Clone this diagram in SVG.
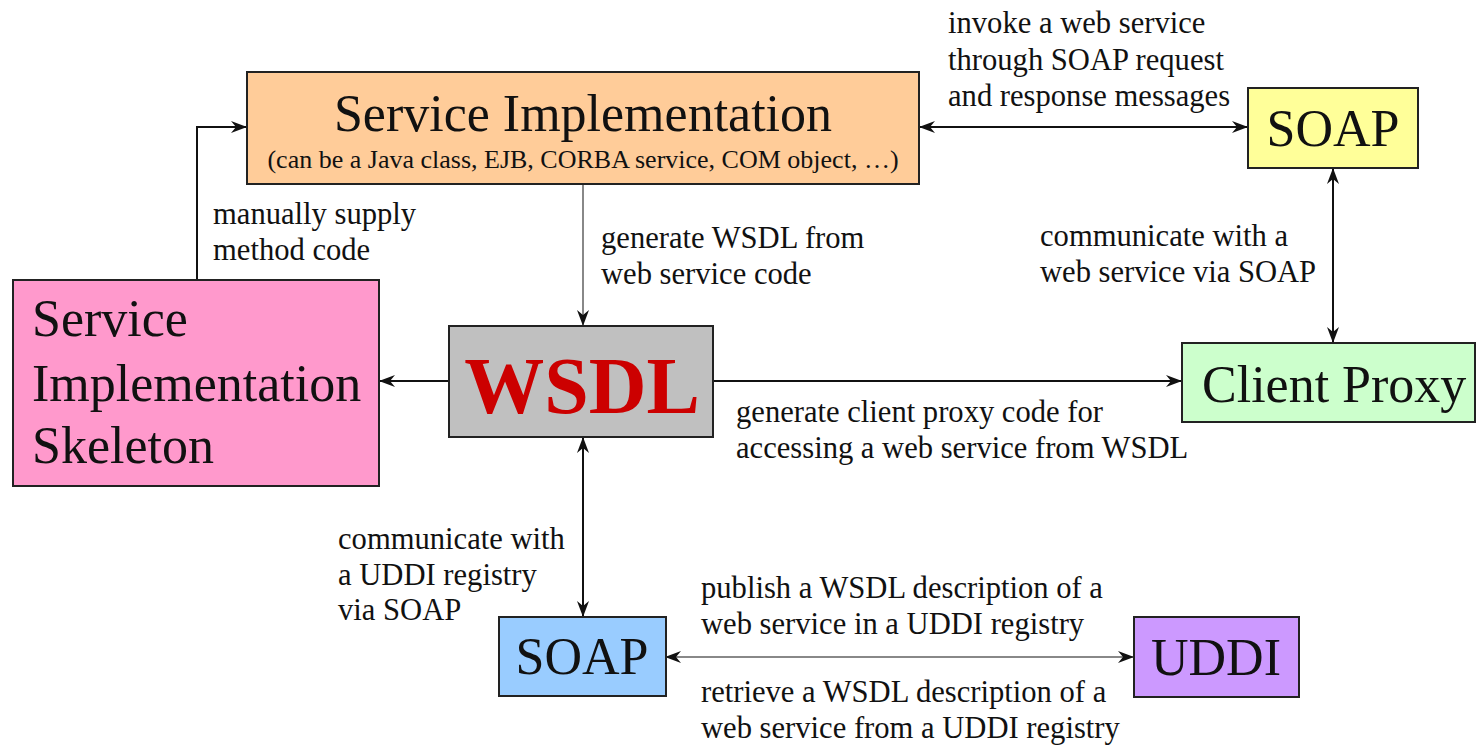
<svg xmlns="http://www.w3.org/2000/svg" width="1476" height="748" viewBox="0 0 1476 748">
<defs>
<marker id="ah" viewBox="0 0 16 12" refX="15" refY="6" markerWidth="16" markerHeight="12" markerUnits="userSpaceOnUse" orient="auto-start-reverse">
<path d="M0,0 L16,6 L0,12 L5,6 z" fill="#111"/>
</marker>
<style>
.box{stroke:#222;stroke-width:2}
.big{font-family:"Liberation Serif","Times New Roman",serif;font-size:52px;fill:#111}
.lbl{font-family:"Liberation Serif","Times New Roman",serif;font-size:30.6px;fill:#111}
.sub{font-family:"Liberation Serif","Times New Roman",serif;font-size:26px;fill:#111}
.con{fill:none;stroke:#111;stroke-width:2}
.gray{stroke:#888}
</style>
</defs>
<rect width="1476" height="748" fill="#fff"/>
<g id="connectors">
<path class="con" d="M197,280 V127 H246" marker-end="url(#ah)"/>
<path class="con gray" d="M583,185 V325" marker-end="url(#ah)"/>
<path class="con" d="M920,127 H1247" marker-start="url(#ah)" marker-end="url(#ah)"/>
<path class="con" d="M1333,169 V342" marker-start="url(#ah)" marker-end="url(#ah)"/>
<path class="con" d="M448,381 H380" marker-end="url(#ah)"/>
<path class="con" d="M714,381 H1181" marker-end="url(#ah)"/>
<path class="con" d="M583,438 V616" marker-start="url(#ah)" marker-end="url(#ah)"/>
<path class="con gray" d="M666,657 H1133" marker-start="url(#ah)" marker-end="url(#ah)"/>
</g>
<g id="labels">
<text class="lbl" x="948" y="33">invoke a web service</text>
<text class="lbl" x="948" y="70">through SOAP request</text>
<text class="lbl" x="948" y="106">and response messages</text>
<text class="lbl" x="213" y="224">manually supply</text>
<text class="lbl" x="213" y="260">method code</text>
<text class="lbl" x="601" y="248">generate WSDL from</text>
<text class="lbl" x="601" y="284">web service code</text>
<text class="lbl" x="1040" y="246">communicate with a</text>
<text class="lbl" x="1040" y="282">web service via SOAP</text>
<text class="lbl" x="736" y="422">generate client proxy code for</text>
<text class="lbl" x="736" y="458">accessing a web service from WSDL</text>
<text class="lbl" x="338" y="549">communicate with</text>
<text class="lbl" x="338" y="585">a UDDI registry</text>
<text class="lbl" x="338" y="620">via SOAP</text>
<text class="lbl" x="701" y="598">publish a WSDL description of a</text>
<text class="lbl" x="701" y="634">web service in a UDDI registry</text>
<text class="lbl" x="701" y="702">retrieve a WSDL description of a</text>
<text class="lbl" x="701" y="738">web service from a UDDI registry</text>
</g>
<g id="service-implementation">
<rect class="box" x="247" y="72" width="672" height="112" fill="#FFCC99"/>
<text class="big" x="583" y="131" text-anchor="middle">Service Implementation</text>
<text class="sub" x="583" y="168" text-anchor="middle">(can be a Java class, EJB, CORBA service, COM object, …)</text>
</g>
<g id="soap-top">
<rect class="box" x="1248" y="88" width="170" height="80" fill="#FFFF99"/>
<text class="big" x="1333" y="146" text-anchor="middle">SOAP</text>
</g>
<g id="skeleton">
<rect class="box" x="13" y="280" width="366" height="206" fill="#FF99CC"/>
<text class="big" x="32" y="336">Service</text>
<text class="big" x="32" y="401">Implementation</text>
<text class="big" x="32" y="463">Skeleton</text>
</g>
<g id="wsdl">
<rect class="box" x="449" y="326" width="264" height="111" fill="#C0C0C0"/>
<text x="582" y="413" text-anchor="middle" font-family="'Liberation Serif','Times New Roman',serif" font-size="80" font-weight="bold" fill="#CC0000">WSDL</text>
</g>
<g id="client-proxy">
<rect class="box" x="1182" y="343" width="293" height="79" fill="#CCFFCC"/>
<text class="big" x="1202" y="402">Client Proxy</text>
</g>
<g id="soap-bottom">
<rect class="box" x="499" y="617" width="167" height="79" fill="#99CCFF"/>
<text class="big" x="582" y="674" text-anchor="middle">SOAP</text>
</g>
<g id="uddi">
<rect class="box" x="1134" y="617" width="165" height="80" fill="#CC99FF"/>
<text class="big" x="1216" y="675" text-anchor="middle">UDDI</text>
</g>
</svg>
